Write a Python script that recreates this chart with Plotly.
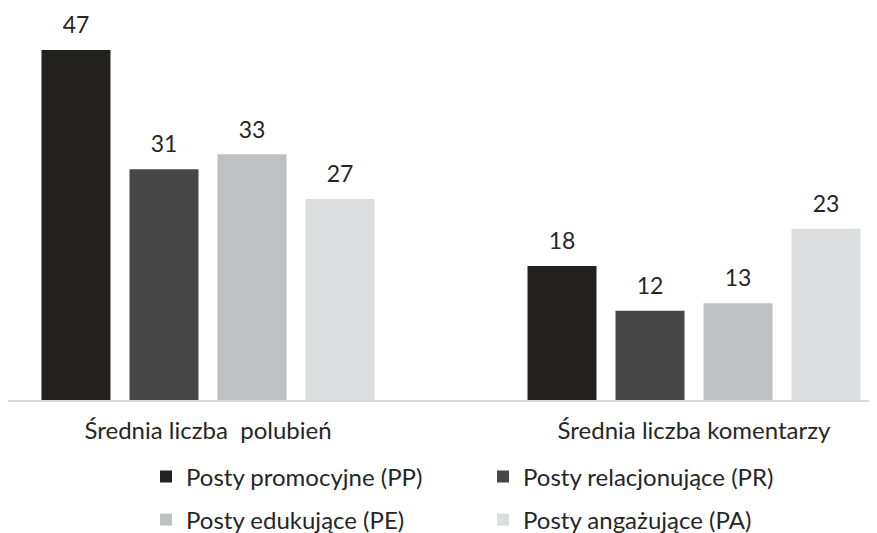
import plotly.graph_objects as go

# ---------------------------------------------------------------------------
# data ----------------------------------------------------------------------
# ---------------------------------------------------------------------------

categories = ["Średnia liczba  polubień", "Średnia liczba komentarzy"]
series_names = [
    "Posty promocyjne (PP)",
    "Posty relacjonujące (PR)",
    "Posty edukujące (PE)",
    "Posty angażujące (PA)",
]
pp_values = [47, 18]
pr_values = [31, 12]
pe_values = [33, 13]
pa_values = [27, 23]

colors = ["#222120", "#474748", "#bfc0c2", "#dcdddf"]
legend_ids = ["legend", "legend", "legend2", "legend2"]

FONT = "Lato"
TXT = "#262626"

# the page body has an 8px margin, so the figure is 8px smaller than the window
W, H = 869, 525

fig = go.Figure()

for i, (name, vals) in enumerate(zip(series_names, [pp_values, pr_values, pe_values, pa_values])):
    fig.add_trace(go.Bar(
        x=categories,
        y=vals,
        name=name,
        marker=dict(color=colors[i], line=dict(width=0)),
        offsetgroup=str(i),
        legend=legend_ids[i],
        hoverinfo="skip",
    ))
    # value labels, aligned to the bars via scattermode="group"
    fig.add_trace(go.Scatter(
        x=categories,
        y=vals,
        mode="markers+text",
        text=[str(v) for v in vals],
        textposition="top center",
        textfont=dict(family=FONT, size=23, color=TXT),
        marker=dict(size=16, opacity=0),
        offsetgroup=str(i),
        showlegend=False,
        cliponaxis=False,
        hoverinfo="skip",
    ))

legend_style = dict(
    orientation="h",
    xref="container", yref="container",
    x=138 / W,
    xanchor="left", yanchor="middle",
    entrywidth=292,
    maxheight=80,
    font=dict(family=FONT, size=24, color=TXT),
    bgcolor="rgba(0,0,0,0)",
)

fig.update_layout(
    width=W,
    height=H,
    margin=dict(l=0, r=0, t=0, b=133),
    paper_bgcolor="white",
    plot_bgcolor="white",
    barmode="group",
    scattermode="group",
    bargap=0.2757,
    bargroupgap=0.216,
    font=dict(family=FONT, size=24, color=TXT),
    xaxis=dict(
        range=[-0.4115, 1.3765],
        showgrid=False,
        showline=True,
        linecolor="#d9d9d9",
        linewidth=2,
        ticks="",
        ticklabelstandoff=8,
        tickfont=dict(family=FONT, size=24, color=TXT),
    ),
    yaxis=dict(
        range=[0, 52.64],
        visible=False,
        showgrid=False,
        zeroline=False,
    ),
    legend=dict(legend_style, y=1 - 469 / H),
    legend2=dict(legend_style, y=1 - 512 / H),
)

fig.write_html("out.html")
